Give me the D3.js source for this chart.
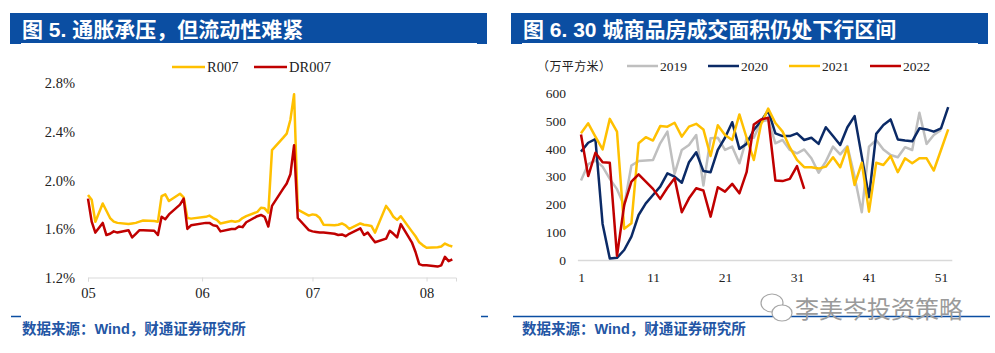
<!DOCTYPE html>
<html>
<head>
<meta charset="utf-8">
<script src="https://cdn.jsdelivr.net/npm/d3@7"></script>
<style>
  body { margin: 0; background: #fff; }
  svg { display: block; }
</style>
</head>
<body>
<div class="chart"></div>
<script>
const WIDTH = 995;
const HEIGHT = 353;

// ---- figure 5: R007 / DR007 (daily, 2022) ----
var rateDates = [
  "2022-05-05","2022-05-06","2022-05-07","2022-05-09","2022-05-10","2022-05-11","2022-05-12","2022-05-13",
  "2022-05-16","2022-05-17","2022-05-18","2022-05-19","2022-05-20","2022-05-23","2022-05-24","2022-05-25",
  "2022-05-26","2022-05-27","2022-05-30","2022-05-31","2022-06-01","2022-06-02","2022-06-06","2022-06-07",
  "2022-06-08","2022-06-09","2022-06-10","2022-06-13","2022-06-14","2022-06-15","2022-06-16","2022-06-17",
  "2022-06-20","2022-06-21","2022-06-22","2022-06-23","2022-06-24","2022-06-27","2022-06-28","2022-06-29",
  "2022-06-30","2022-07-01","2022-07-04","2022-07-05","2022-07-06","2022-07-07","2022-07-08","2022-07-11",
  "2022-07-12","2022-07-13","2022-07-14","2022-07-15","2022-07-18","2022-07-19","2022-07-20","2022-07-21",
  "2022-07-22","2022-07-25","2022-07-26","2022-07-27","2022-07-28","2022-07-29","2022-08-01","2022-08-02",
  "2022-08-03","2022-08-04","2022-08-05","2022-08-08","2022-08-09","2022-08-10","2022-08-11","2022-08-12"
];
var r007 = [
  1.88,1.84,1.66,1.81,1.75,1.69,1.66,1.65,
  1.64,1.645,1.65,1.66,1.67,1.665,1.66,1.87,
  1.885,1.83,1.89,1.86,1.69,1.685,1.70,1.71,
  1.69,1.675,1.645,1.665,1.66,1.665,1.69,1.705,
  1.74,1.775,1.77,1.735,2.25,2.35,2.385,2.50,
  2.71,1.76,1.71,1.72,1.715,1.69,1.635,1.63,
  1.635,1.645,1.63,1.60,1.645,1.635,1.63,1.625,
  1.57,1.79,1.75,1.70,1.675,1.705,1.58,1.54,
  1.49,1.465,1.445,1.45,1.455,1.48,1.465,1.455
];
var dr007 = [
  1.85,1.66,1.57,1.65,1.55,1.56,1.58,1.57,
  1.59,1.53,1.56,1.59,1.59,1.585,1.55,1.70,
  1.68,1.72,1.80,1.85,1.60,1.63,1.65,1.65,
  1.63,1.625,1.58,1.60,1.60,1.62,1.615,1.655,
  1.705,1.715,1.70,1.62,1.79,1.93,1.975,2.05,
  2.29,1.69,1.59,1.58,1.575,1.57,1.57,1.56,
  1.55,1.555,1.54,1.56,1.605,1.55,1.57,1.53,
  1.49,1.52,1.585,1.56,1.53,1.64,1.49,1.41,
  1.31,1.30,1.30,1.29,1.30,1.37,1.335,1.35
];
var rateTicks = [1.2, 1.6, 2.0, 2.4, 2.8];
var monthTicks = ["2022-05-05","2022-06-05","2022-07-05","2022-08-05"];

// ---- figure 6: weekly floor area, 30 cities (10k sqm) ----
var areaTicks = [0, 100, 200, 300, 400, 500, 600];
var weekTicks = [1, 11, 21, 31, 41, 51];
var area2019 = [286,345,358,336,292,255,195,340,356,358,360,420,462,310,396,414,450,268,438,440,
  396,408,348,438,440,498,505,420,432,396,384,398,366,314,354,408,380,410,300,172,
  408,432,398,378,370,406,396,530,418,450,468];
var area2020 = [390,422,435,130,5,8,36,84,162,204,234,264,312,300,278,352,388,320,316,396,
  440,496,400,418,468,500,538,456,446,446,456,432,440,418,478,446,414,478,518,372,
  226,454,486,506,434,430,427,474,470,462,474,550];
var area2021 = [456,492,444,398,508,462,112,132,420,442,430,482,480,494,444,480,490,470,374,485,
  450,432,524,440,360,488,545,493,462,405,360,334,334,329,336,370,334,406,270,350,
  174,350,342,374,316,366,348,366,366,322,396,470];
var area2022 = [452,302,386,352,350,15,198,282,308,282,256,220,260,294,172,222,258,250,156,262,
  246,274,240,316,488,506,512,286,284,292,338,256];
var yearNames = ["2019", "2020", "2021", "2022"];
var yearColors = ["#BFBFBF", "#0B2A66", "#FFC000", "#C00000"];

var parseDate = d3.timeParse("%Y-%m-%d");

var svg = d3.select(".chart").append("svg")
  .attr("width", WIDTH)
  .attr("height", HEIGHT);

svg.append("rect").attr("width", WIDTH).attr("height", HEIGHT).attr("fill", "#fff");

var SANS = "'Liberation Sans','Noto Sans CJK SC',sans-serif";
var SERIF = "'Liberation Serif','Noto Sans CJK SC',serif";

// title bars
var drawHeader = function(x0, x1, title) {
  svg.append("rect")
    .attr("x", x0).attr("y", 13)
    .attr("width", x1 - x0).attr("height", 31)
    .attr("fill", "#0B4EA2");
  svg.append("line")
    .attr("x1", x0 + 11).attr("x2", x1 - 10)
    .attr("y1", 43.5).attr("y2", 43.5)
    .attr("stroke", "#fff").attr("stroke-width", 1);
  svg.append("text")
    .attr("x", x0 + 12).attr("y", 36.5)
    .attr("fill", "#fff")
    .attr("font-family", SANS)
    .attr("font-weight", "bold")
    .attr("font-size", 21)
    .text(title);
};
drawHeader(10, 487, "图 5. 通胀承压，但流动性难紧");
drawHeader(511, 988, "图 6. 30 城商品房成交面积仍处下行区间");

// source lines
var footLines = [[11, 21], [481, 488], [513, 990]];
footLines.forEach(function(s) {
  svg.append("line")
    .attr("x1", s[0]).attr("x2", s[1])
    .attr("y1", 316.5).attr("y2", 316.5)
    .attr("stroke", "#0B4EA2").attr("stroke-width", 1.5);
});
[22, 522].forEach(function(x) {
  svg.append("text")
    .attr("x", x).attr("y", 334)
    .attr("fill", "#2356A5")
    .attr("font-family", SANS)
    .attr("font-weight", "bold")
    .attr("font-size", 14.5)
    .text("数据来源：Wind，财通证券研究所");
});

// ---------- left chart ----------
var xL = d3.scaleTime()
  .domain([parseDate("2022-05-05"), parseDate("2022-08-13")])
  .range([88, 456]);
var yL = d3.scaleLinear().domain([1.2, 2.8]).range([277.5, 83.3]);

var gxL = svg.append("g")
  .attr("transform", "translate(0," + yL(1.2) + ")")
  .call(d3.axisBottom(xL)
    .tickValues(monthTicks.map(parseDate))
    .tickFormat(d3.timeFormat("%m"))
    .tickSize(4)
    .tickPadding(6.5));
gxL.select(".domain").attr("stroke", "#D9D9D9");
gxL.selectAll(".tick line").attr("stroke", "#D9D9D9");
gxL.selectAll("text").attr("font-family", SERIF).attr("font-size", 14.5).attr("fill", "#222");

var gyL = svg.append("g")
  .attr("transform", "translate(75,0)")
  .call(d3.axisLeft(yL)
    .tickValues(rateTicks)
    .tickFormat(function(d) { return d3.format(".1f")(d) + "%"; })
    .tickSize(0)
    .tickPadding(0));
gyL.select(".domain").remove();
gyL.selectAll("text").attr("font-family", SERIF).attr("font-size", 14.5).attr("fill", "#222");

var lineL = function(vals) {
  return d3.line()
    .x(function(d, i) { return xL(parseDate(rateDates[i])); })
    .y(function(d) { return yL(d); })(vals);
};
svg.append("path").attr("d", lineL(r007))
  .attr("fill", "none").attr("stroke", "#FFC000").attr("stroke-width", 2.5).attr("stroke-linejoin", "round");
svg.append("path").attr("d", lineL(dr007))
  .attr("fill", "none").attr("stroke", "#C00000").attr("stroke-width", 2.5).attr("stroke-linejoin", "round");

var legL = [["R007", "#FFC000", 172], ["DR007", "#C00000", 254]];
legL.forEach(function(l) {
  svg.append("line")
    .attr("x1", l[2]).attr("x2", l[2] + 33)
    .attr("y1", 67).attr("y2", 67)
    .attr("stroke", l[1]).attr("stroke-width", 2.5);
  svg.append("text")
    .attr("x", l[2] + 35).attr("y", 72)
    .attr("font-family", SERIF).attr("font-size", 14.5).attr("fill", "#222")
    .text(l[0]);
});

// ---------- right chart ----------
var xR = d3.scaleLinear().domain([0.5, 52.5]).range([577.4, 951.8]);
var yR = d3.scaleLinear().domain([0, 600]).range([260, 93.3]);

var gxR = svg.append("g")
  .attr("transform", "translate(0," + yR(0) + ")")
  .call(d3.axisBottom(xR).tickValues(weekTicks).tickFormat(d3.format("d")).tickSize(0).tickPadding(12));
gxR.select(".domain").attr("stroke", "#D9D9D9").attr("stroke-width", 1.5);
gxR.selectAll("text").attr("font-family", SERIF).attr("font-size", 13.5).attr("fill", "#222");

var gyR = svg.append("g")
  .attr("transform", "translate(566,0)")
  .call(d3.axisLeft(yR).tickValues(areaTicks).tickSize(0).tickPadding(0));
gyR.select(".domain").remove();
gyR.selectAll("text").attr("font-family", SERIF).attr("font-size", 13.5).attr("fill", "#222");

var lineR = d3.line()
  .x(function(d, i) { return xR(i + 1); })
  .y(function(d) { return yR(d); });

[area2019, area2020, area2021, area2022].forEach(function(vals, k) {
  svg.append("path").attr("d", lineR(vals))
    .attr("fill", "none").attr("stroke", yearColors[k])
    .attr("stroke-width", 2.5).attr("stroke-linejoin", "round");
});

svg.append("text")
  .attr("x", 537).attr("y", 71)
  .attr("font-family", "'Noto Sans CJK SC',sans-serif").attr("font-size", 12)
  .attr("letter-spacing", 0.4).attr("fill", "#222")
  .text("（万平方米）");

var legX = [627, 708, 789, 870];
yearNames.forEach(function(name, k) {
  svg.append("line")
    .attr("x1", legX[k]).attr("x2", legX[k] + 31)
    .attr("y1", 66).attr("y2", 66)
    .attr("stroke", yearColors[k]).attr("stroke-width", 2.5);
  svg.append("text")
    .attr("x", legX[k] + 33).attr("y", 70.5)
    .attr("font-family", SERIF).attr("font-size", 13.5).attr("fill", "#222")
    .text(name);
});

// watermark
var wm = svg.append("g").attr("fill", "none").attr("stroke", "#A6A6A6").attr("stroke-width", 1.2);
wm.append("ellipse").attr("cx", 772).attr("cy", 303).attr("rx", 11).attr("ry", 9);
wm.append("ellipse").attr("cx", 782).attr("cy", 313).attr("rx", 10).attr("ry", 8).attr("fill", "#fff");
svg.append("text")
  .attr("x", 795).attr("y", 318)
  .attr("font-family", SANS).attr("font-size", 24).attr("fill", "#9A9A9A")
  .text("李美岑投资策略");
</script>
</body>
</html>
